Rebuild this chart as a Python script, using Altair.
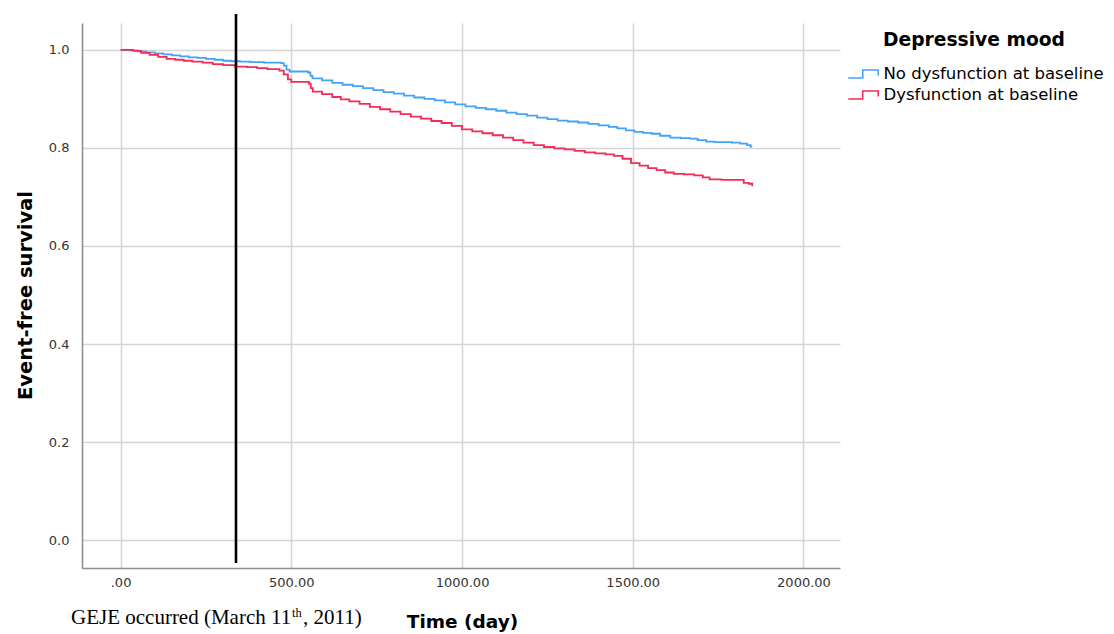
import altair as alt
import pandas as pd

# ---- data ----
groups = ["No dysfunction at baseline", "Dysfunction at baseline"]
colors = ["#45a3f5", "#f52a55"]

days_no = [0, 28, 50, 75, 100, 125, 150, 175, 200, 225, 250, 275, 300, 325, 350, 380, 420, 470,
           478, 486, 495, 549, 556, 562, 590, 620, 650, 680, 710, 740, 770, 800, 830, 860, 890,
           920, 950, 980, 1010, 1040, 1070, 1100, 1130, 1160, 1190, 1220, 1250, 1280, 1310,
           1340, 1370, 1400, 1430, 1455, 1480, 1505, 1530, 1555, 1580, 1610, 1640, 1668, 1690,
           1715, 1740, 1790, 1815, 1835, 1845, 1850]
surv_no = [1.000, 0.999, 0.997, 0.995, 0.993, 0.991, 0.989, 0.987, 0.985, 0.984, 0.982, 0.980,
           0.978, 0.977, 0.976, 0.975, 0.974, 0.973, 0.968, 0.960, 0.956, 0.954, 0.947, 0.942,
           0.938, 0.933, 0.929, 0.926, 0.922, 0.918, 0.914, 0.911, 0.907, 0.903, 0.900, 0.897,
           0.893, 0.889, 0.885, 0.882, 0.879, 0.876, 0.872, 0.869, 0.866, 0.862, 0.859, 0.856,
           0.854, 0.852, 0.849, 0.846, 0.843, 0.840, 0.836, 0.833, 0.831, 0.829, 0.825, 0.821,
           0.820, 0.819, 0.816, 0.813, 0.812, 0.811, 0.809, 0.806, 0.803, 0.803]

days_dys = [0, 37, 60, 85, 110, 135, 160, 185, 210, 240, 270, 300, 335, 370, 400, 430, 465,
            478, 490, 500, 552, 557, 563, 590, 620, 645, 670, 700, 730, 760, 790, 820, 850, 880,
            910, 940, 970, 1000, 1030, 1060, 1090, 1120, 1150, 1180, 1210, 1240, 1270, 1300,
            1330, 1360, 1390, 1420, 1445, 1470, 1495, 1520, 1545, 1570, 1595, 1620, 1650, 1680,
            1705, 1725, 1760, 1800, 1825, 1840, 1850]
surv_dys = [1.000, 0.998, 0.994, 0.990, 0.986, 0.982, 0.980, 0.978, 0.976, 0.974, 0.971, 0.969,
            0.966, 0.965, 0.963, 0.961, 0.958, 0.950, 0.940, 0.935, 0.931, 0.922, 0.915, 0.910,
            0.904, 0.899, 0.895, 0.890, 0.884, 0.879, 0.874, 0.869, 0.864, 0.860, 0.855, 0.851,
            0.845, 0.838, 0.834, 0.830, 0.826, 0.821, 0.816, 0.811, 0.806, 0.802, 0.799, 0.797,
            0.794, 0.791, 0.789, 0.787, 0.784, 0.778, 0.769, 0.764, 0.759, 0.755, 0.750, 0.747,
            0.746, 0.744, 0.740, 0.736, 0.735, 0.735, 0.729, 0.727, 0.722]

x_ticks = [0, 500, 1000, 1500, 2000]
y_ticks = [0.0, 0.2, 0.4, 0.6, 0.8, 1.0]
geje_day = [338]

df = pd.concat([
    pd.DataFrame({"day": days_no, "surv": surv_no, "group": groups[0]}),
    pd.DataFrame({"day": days_dys, "surv": surv_dys, "group": groups[1]}),
], ignore_index=True)

W, H = 758, 545
SANS = "DejaVu Sans"

x_scale = alt.Scale(domain=[-113, 2107], nice=False, zero=False)
y_scale = alt.Scale(domain=[-0.057, 1.055], nice=False, zero=False)

x_enc = alt.X("day:Q", scale=x_scale,
              axis=alt.Axis(values=x_ticks, title="Time (day)",
                            labelExpr="datum.value == 0 ? '.00' : format(datum.value, '.2f')",
                            labelPadding=8, titleFontSize=18.5,
                            titleX=380, titleY=59, titleBaseline="alphabetic",
                            titleAnchor="middle", titleAlign="center"))
y_enc = alt.Y("surv:Q", scale=y_scale,
              axis=alt.Axis(values=y_ticks, format=".1f", title="Event-free survival",
                            labelPadding=13, titleFontSize=19.5,
                            titleX=-51, titleY=272, titleAngle=-90,
                            titleBaseline="alphabetic", titleAlign="center"))

lines = alt.Chart(df).mark_line(interpolate="step-after", strokeWidth=1.8).encode(
    x=x_enc,
    y=y_enc,
    color=alt.Color("group:N",
                    scale=alt.Scale(domain=groups, range=colors),
                    sort=groups,
                    legend=alt.Legend(
                        orient="none", legendX=763, legendY=8, padding=0,
                        title="Depressive mood", titleFont=SANS, titleFontSize=18.7,
                        titleFontWeight="bold", titleColor="black", titleLimit=400,
                        titleAnchor="middle", titleAlign="center", titlePadding=16,
                        labelFont=SANS, labelFontSize=16.5, labelColor="black",
                        labelLimit=400,
                        symbolType="M-1,0.8H1.9V-0.8H5V0.3", symbolSize=100,
                        symbolStrokeWidth=1.6, symbolFillColor="transparent",
                        labelOffset=22, rowPadding=4)),
    order=alt.Order("day:Q"),
)

vline = alt.Chart(pd.DataFrame({"day": geje_day})).mark_rule(
    color="black", strokeWidth=2.6).encode(
    x=alt.X("day:Q", scale=x_scale),
    y=alt.value(-9),
    y2=alt.value(540),
)

ann_df = pd.DataFrame({"a": [0]})
ann1 = alt.Chart(ann_df).mark_text(
    text="GEJE occurred (March 11", font="Liberation Serif", fontSize=21,
    align="left", baseline="alphabetic", color="black").encode(
    x=alt.value(-11), y=alt.value(601))
ann2 = alt.Chart(ann_df).mark_text(
    text="th", font="Liberation Serif", fontSize=12.5,
    align="left", baseline="alphabetic", color="black").encode(
    x=alt.value(210), y=alt.value(594))
ann3 = alt.Chart(ann_df).mark_text(
    text=", 2011)", font="Liberation Serif", fontSize=21,
    align="left", baseline="alphabetic", color="black").encode(
    x=alt.value(221), y=alt.value(601))

chart = alt.layer(lines, vline, ann1, ann2, ann3).properties(
    width=W, height=H,
    background="white",
    autosize=alt.AutoSizeParams(type="none"),
    padding={"left": 74, "top": 15, "right": 266, "bottom": 70},
).configure_view(stroke=None).configure_axis(
    domainColor="#8f8f8f", domainWidth=1.6,
    ticks=False, tickSize=0,
    grid=True, gridColor="#d6d6d6", gridWidth=1.6,
    labelFont=SANS, labelFontSize=13, labelColor="#333333",
    titleFont=SANS, titleFontWeight="bold", titleColor="black",
)

chart.save("out.html", embed_options={"renderer": "svg", "actions": False})
